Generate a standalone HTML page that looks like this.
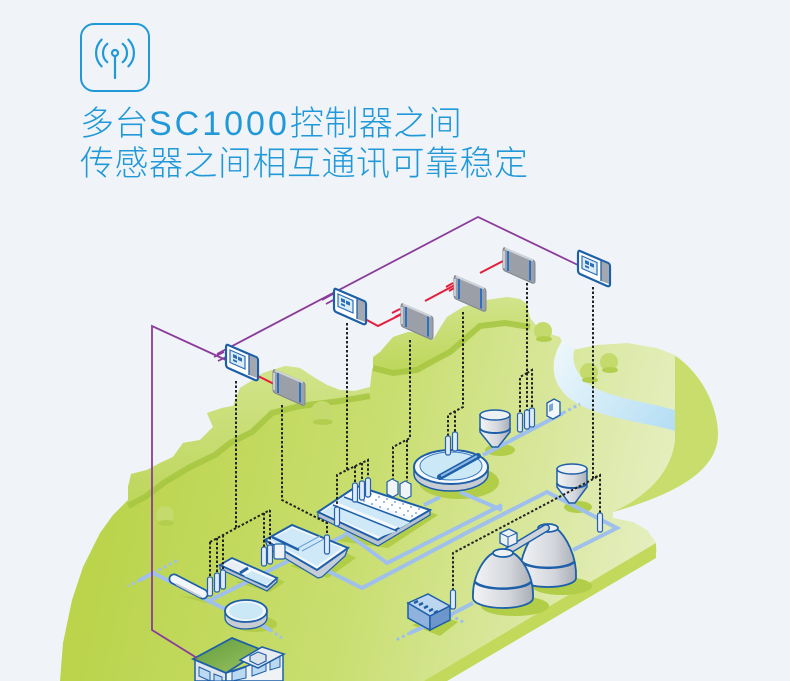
<!DOCTYPE html>
<html><head><meta charset="utf-8">
<style>
html,body{margin:0;padding:0;}
body{width:790px;height:681px;background:#f0f4f8;overflow:hidden;position:relative;}
.t{position:absolute;left:80px;top:104px;font-size:34px;line-height:40px;color:#2199d8;font-family:"Liberation Sans","Noto Sans CJK SC",sans-serif;font-weight:300;white-space:nowrap;letter-spacing:0.5px;}
svg{position:absolute;left:0;top:0;}
</style></head>
<body>
<svg width="790" height="681" viewBox="0 0 790 681" xmlns="http://www.w3.org/2000/svg">
<defs>
<linearGradient id="land" gradientUnits="userSpaceOnUse" x1="120" y1="470" x2="660" y2="590">
<stop offset="0" stop-color="#bbd44c"/><stop offset="0.45" stop-color="#c9de70"/><stop offset="1" stop-color="#e6efc3"/>
</linearGradient>
<linearGradient id="canopy" x1="0" y1="0" x2="0" y2="1">
<stop offset="0" stop-color="#d2e48c"/><stop offset="1" stop-color="#bdd65a"/>
</linearGradient>
<linearGradient id="river" gradientUnits="userSpaceOnUse" x1="555" y1="345" x2="675" y2="428">
<stop offset="0" stop-color="#eef7fb"/><stop offset="1" stop-color="#b4def4"/>
</linearGradient>
<linearGradient id="gray" x1="0" y1="0" x2="1" y2="0">
<stop offset="0" stop-color="#f3f4f6"/><stop offset="0.6" stop-color="#d3d6db"/><stop offset="1" stop-color="#a9aeb6"/>
</linearGradient>
<linearGradient id="roof" x1="0" y1="0" x2="1" y2="1">
<stop offset="0" stop-color="#5f9a3c"/><stop offset="1" stop-color="#9cc461"/>
</linearGradient>
<g id="ctrl">
<path d="M3,1 L31,13 Q33,14 33,17 L33,34 Q33,37 30,36 L3,24 Q1,23 1,20 L1,4 Q1,0 3,1Z" fill="#fff" stroke="#1d5fa8" stroke-width="2.2"/>
<path d="M24,11 L31,14 Q32,14.5 32,16 L32,34 L24,31Z" fill="#a3a8b0"/>
<line x1="24" y1="11" x2="24" y2="31" stroke="#1d5fa8" stroke-width="1.3"/>
<path d="M5,6 L20,12.5 L20,25 L5,18.5 Z" fill="#d9ecf8" stroke="#2b6db6" stroke-width="1.2"/>
<path d="M8,10 l4,1.7 v3.5 l-4,-1.7z M13,12.5 l4,1.7 v3.5 l-4,-1.7z M8,15 l4,1.7 v2 l-4,-1.7z" fill="#2b6db6"/>
</g>
<g id="box">
<path d="M3,1 L31,13 Q33,14 33,17 L33,34 Q33,37 30,36 L3,24 Q1,23 1,20 L1,4 Q1,0 3,1Z" fill="#9ba0a8" stroke="#80868f" stroke-width="1"/>
<path d="M3,1.5 L31,13.5" stroke="#d0d3d8" stroke-width="2"/>
<path d="M2,4 V21" stroke="#c9ccd1" stroke-width="2"/>
<path d="M6,4 V24 M28,13.5 V33.5" stroke="#2d6fc0" stroke-width="2"/>
</g>
<g id="sen">
<rect x="-2.5" y="0" width="5" height="19" rx="2" fill="#e0ebf7" stroke="#2662ad" stroke-width="1.2"/>
</g>
</defs>

<!-- icon -->
<rect x="81" y="24" width="68" height="67" rx="13" fill="none" stroke="#2199d8" stroke-width="2"/>
<g fill="none" stroke="#2199d8" stroke-width="2.2" stroke-linecap="round">
<circle cx="115" cy="53" r="3"/>
<line x1="115" y1="56" x2="115" y2="78"/>
<path d="M107.3,43.8 A12 12 0 0 0 107.3,62.2"/>
<path d="M122.7,43.8 A12 12 0 0 1 122.7,62.2"/>
<path d="M101.6,39.6 A19 19 0 0 0 101.6,66.4"/>
<path d="M128.4,39.6 A19 19 0 0 1 128.4,66.4"/>
</g>

<!-- land -->
<path d="M60,681 L63,643 L72,600 L83,567 L100,533 L113,515 L128,500 L128,487 L131,474 L147,470 L160,463 L173,457 L183,443 L200,440 L213,427 L207,413 L222,408 L233,406 L240,388 L253,380 L263,373 L285,366 L300,368 L315,378 L327,385 L340,390 L355,391 L370,387 L372,370 L380,352 L393,337 L408,332 L420,333 L433,340 L440,328 L447,317 L463,307 L487,300 L507,297 L520,299 L527,304 L530,318 L537,326 L550,334 L560,337 L563,345 L573,350 L597,345 L627,343 L657,348 L675,355 C700,372 718,405 718,435 C717,465 690,490 613,512 L613,518 L633,522 L647,530 L655,541 L657,550 L655,558 L447,681 Z" fill="url(#land)"/>
<!-- dark plate edge -->
<path d="M656,543 L656,558 L447,681 L424,681 Z" fill="#c3d95c"/>
<!-- canopy clusters -->
<path d="M128,490 L131,474 L147,470 L160,463 L173,457 L183,443 L200,440 L213,427 L207,413 L222,408 L233,406 L240,388 L253,380 L263,373 L285,366 L300,368 L315,378 L327,385 L340,390 L355,391 L370,387 L370,396 L340,401 L300,406 L272,413 L252,432 L230,443 L215,455 L190,467 L165,482 L145,497 L128,506 Z" fill="url(#canopy)"/>
<path d="M370,396 L340,401 L300,406 L272,413 L252,432 L230,443 L215,455 L190,467 L165,482 L145,497 L128,506" fill="none" stroke="#a6c53f" stroke-width="6" stroke-opacity="0.85"/>
<path d="M373,357 L380,352 L393,337 L408,332 L420,333 L433,340 L440,328 L447,317 L463,307 L487,300 L507,297 L520,299 L527,304 L530,318 L530,327 L505,323 L480,326 L465,339 L450,352 L433,361 L417,370 L393,373 L373,368 Z" fill="url(#canopy)"/>
<path d="M530,327 L505,323 L480,326 L465,339 L450,352 L433,361 L417,370 L393,373 L373,368" fill="none" stroke="#a6c53f" stroke-width="6" stroke-opacity="0.85"/>
<!-- river -->
<path d="M562,341 C548,362 550,390 580,405 C610,420 645,422 675,431 L675,410 C645,402 615,398 595,388 C577,378 570,362 575,348 Z" fill="url(#river)"/>
<!-- crescent -->
<path d="M675,356 C700,372 718,405 718,435 C717,465 690,490 613,512 C650,495 672,470 675,440 Z" fill="#c8dd6b"/>
<!-- small tree blobs -->
<g fill="#c4da6c">
<circle cx="165" cy="515" r="9"/><circle cx="322" cy="412" r="11"/><circle cx="543" cy="331" r="9"/><circle cx="589" cy="372" r="9"/><circle cx="609" cy="362" r="9"/>
</g>
<g fill="#b3ce4e">
<ellipse cx="166" cy="523" rx="8" ry="3"/><ellipse cx="323" cy="422" rx="10" ry="3"/><ellipse cx="544" cy="339" rx="8" ry="3"/><ellipse cx="590" cy="380" rx="8" ry="3"/><ellipse cx="610" cy="370" rx="8" ry="3"/>
</g>

<!-- shadows -->
<g fill="#b2cd47">
<ellipse cx="459" cy="482" rx="40" ry="17"/>
<ellipse cx="500" cy="450" rx="15" ry="6"/>
<ellipse cx="578" cy="507" rx="14" ry="6"/>
<ellipse cx="515" cy="606" rx="34" ry="10"/>
<ellipse cx="562" cy="586" rx="30" ry="9"/>
<ellipse cx="255" cy="624" rx="22" ry="8"/>
<path d="M330,540 L388,548 L438,515 L420,508 Z"/>
<path d="M290,566 L328,578 L356,558 L345,552 Z"/>
<path d="M235,582 L270,592 L285,582 L275,577 Z"/>
<path d="M180,596 L210,604 L214,598 Z"/>
<path d="M412,625 L440,636 L458,622 L440,615 Z"/>
</g>

<!-- pipes -->
<g fill="none" stroke="#9fc0ec" stroke-width="4">
<path d="M140,580 L153,573 L227,610"/>
<path d="M258,623 L270,630"/>
<path d="M207,602 L290,560"/>
<path d="M320,567 L362,588 L470,531 L547,492 L617,528 L573,550"/>
<path d="M345,532 L387,563 L502,505"/>
<path d="M460,492 L502,510"/>
<path d="M424,505 L440,497"/>
<path d="M483,455 L563,413"/>
<path d="M473,603 L450,615 L410,633"/>
<path d="M300,558 L345,535"/>
</g>
<g fill="none" stroke="#9fc0ec" stroke-width="3" stroke-dasharray="3 3">
<path d="M153,573 L178,560"/>
<path d="M140,580 L128,586"/>
<path d="M270,630 L282,638"/>
<path d="M563,413 L580,404"/>
<path d="M410,633 L396,640"/>
<path d="M450,615 L465,623"/>
</g>

<!-- cylinder -->
<path d="M174,579 L203,594" stroke="#1d5fa8" stroke-width="11" stroke-linecap="round"/>
<path d="M174,579 L203,594" stroke="#f4f7fa" stroke-width="7.5" stroke-linecap="round"/>
<path d="M176,584 L201,597" stroke="#c8ccd2" stroke-width="2"/>

<!-- small round tank -->
<path d="M225,611 L225,618 A21 11 0 0 0 267,618 L267,611 Z" fill="#c8ccd3" stroke="#1d5fa8" stroke-width="1.3"/>
<ellipse cx="246" cy="611" rx="21" ry="11" fill="#f4f8fb" stroke="#1d5fa8" stroke-width="1.8"/>
<ellipse cx="246" cy="611" rx="17" ry="8.5" fill="#cbe8f7"/>

<!-- grit tank -->
<path d="M220,565 L220,569 L267,591 L277,582 L277,578 L267,587 Z" fill="#b9c3cf" stroke="#1d5fa8" stroke-width="1.2"/>
<path d="M220,565 L232,558 L277,578 L267,587 Z" fill="#f4f8fb" stroke="#1d5fa8" stroke-width="1.8"/>
<path d="M224,565 L232,561 L248,568 L240,573 Z" fill="#e8eef4"/>
<path d="M244,576 L252,571 L273,580 L265,585 Z" fill="#cde8f7"/>
<path d="M240,573 L248,568" stroke="#1d5fa8" stroke-width="3"/>

<!-- middle tank -->
<path d="M265,540 L268,548 L318,578 L322,577 L345,556 L348,548 L317,570 Z" fill="#c5cdd8" stroke="#1d5fa8" stroke-width="1.2"/>
<path d="M265,540 L292,525 L348,548 L317,570 Z" fill="#f4f8fb" stroke="#1d5fa8" stroke-width="2"/>
<path d="M270,540 L292,528 L342,548 L317,566 Z" fill="#cfe9f8"/>
<path d="M272,537 L299,550" stroke="#1d5fa8" stroke-width="2.5"/>
<path d="M298,548 L320,536 M302,551 L324,539" stroke="#6d9fd6" stroke-width="1"/>
<rect x="274" y="544" width="11" height="15" rx="2" fill="#eef2f6" stroke="#1d5fa8" stroke-width="1.2"/>

<!-- aeration basin -->
<path d="M318,512 L318,517 L378,546 L430,515 L430,510 L378,540 Z" fill="#b9c3cf" stroke="#1d5fa8" stroke-width="1.2"/>
<path d="M318,512 L357,486 L430,510 L378,540 Z" fill="#f4f8fb" stroke="#1d5fa8" stroke-width="2"/>
<path d="M322,512 L333,505 L397,531 L380,537 Z" fill="#cfe9f8"/>
<path d="M336,502 L344,497 L411,522 L400,528 Z" fill="#cfe9f8"/>
<path d="M347,494 L357,489 L426,511 L414,518 Z" fill="#ffffff"/>
<g fill="#5b8fcc">
<circle cx="360" cy="494" r="0.9"/><circle cx="368" cy="497" r="0.9"/><circle cx="376" cy="500" r="0.9"/><circle cx="384" cy="502" r="0.9"/><circle cx="392" cy="505" r="0.9"/><circle cx="400" cy="508" r="0.9"/><circle cx="408" cy="511" r="0.9"/><circle cx="416" cy="513" r="0.9"/>
<circle cx="356" cy="498" r="0.9"/><circle cx="364" cy="501" r="0.9"/><circle cx="372" cy="504" r="0.9"/><circle cx="380" cy="507" r="0.9"/><circle cx="388" cy="509" r="0.9"/><circle cx="396" cy="512" r="0.9"/><circle cx="404" cy="515" r="0.9"/><circle cx="412" cy="516" r="0.9"/>
<circle cx="363" cy="491" r="0.9"/><circle cx="371" cy="494" r="0.9"/><circle cx="379" cy="497" r="0.9"/><circle cx="387" cy="499" r="0.9"/><circle cx="395" cy="502" r="0.9"/><circle cx="403" cy="504" r="0.9"/><circle cx="411" cy="507" r="0.9"/><circle cx="419" cy="509" r="0.9"/>
</g>
<path d="M333,505 L397,531 M344,497 L411,522" stroke="#1d5fa8" stroke-width="1.5"/>
<!-- blowers -->
<path d="M387,482 L392,479 L398,482 L398,494 L393,497 L387,494 Z" fill="#f1f4f7" stroke="#1d5fa8" stroke-width="1.2"/>
<path d="M400,484 L405,481 L411,484 L411,496 L406,499 L400,496 Z" fill="#f1f4f7" stroke="#1d5fa8" stroke-width="1.2"/>

<!-- clarifier -->
<path d="M414,467 L414,474 A37 17 0 0 0 488,474 L488,467 Z" fill="#c8ccd3" stroke="#1d5fa8" stroke-width="1.5"/>
<ellipse cx="451" cy="467" rx="37" ry="17" fill="#f4f8fb" stroke="#1d5fa8" stroke-width="2"/>
<ellipse cx="451" cy="466" rx="31" ry="14" fill="#cbe8f7" stroke="#3a78c0" stroke-width="1"/>
<path d="M440,477 L478,456" stroke="#1d5fa8" stroke-width="6" stroke-linecap="round"/>
<path d="M441,476 L477,456" stroke="#8fb8e4" stroke-width="2"/>

<!-- silo 1 -->
<path d="M480,415 L480,432 L492,447 L498,447 L510,432 L510,415 Z" fill="url(#gray)" stroke="#1d5fa8" stroke-width="1.5"/>
<ellipse cx="495" cy="415" rx="15" ry="5" fill="#eef1f4" stroke="#1d5fa8" stroke-width="1.5"/>
<path d="M480,428 A15 5 0 0 0 510,428" stroke="#1d5fa8" stroke-width="2" fill="none"/>
<!-- silo 2 -->
<path d="M557,469 L557,487 L569,503 L575,503 L587,487 L587,469 Z" fill="url(#gray)" stroke="#1d5fa8" stroke-width="1.5"/>
<ellipse cx="572" cy="469" rx="15" ry="5" fill="#eef1f4" stroke="#1d5fa8" stroke-width="1.5"/>
<path d="M557,483 A15 5 0 0 0 587,483" stroke="#1d5fa8" stroke-width="2" fill="none"/>

<!-- digesters -->
<path d="M520,578 C519,556 530,536 540,528 L556,528 C566,536 577,556 576,578 A28 9 0 0 1 520,578 Z" fill="url(#gray)" stroke="#1d5fa8" stroke-width="1.8"/>
<path d="M522,562 A27 8 0 0 0 574,562" fill="none" stroke="#1d5fa8" stroke-width="2.5"/>
<ellipse cx="548" cy="528" rx="10" ry="4" fill="#eef1f4" stroke="#1d5fa8" stroke-width="1.8"/>
<path d="M506,552 L546,528" stroke="#1d5fa8" stroke-width="8" stroke-linecap="round"/>
<path d="M506,552 L546,528" stroke="#d0d4da" stroke-width="5" stroke-linecap="round"/>
<path d="M473,598 C472,575 485,556 495,552 L511,552 C521,556 534,575 533,598 A30 10 0 0 1 473,598 Z" fill="url(#gray)" stroke="#1d5fa8" stroke-width="1.8"/>
<path d="M475,582 A29 9 0 0 0 531,582" fill="none" stroke="#1d5fa8" stroke-width="2.5"/>
<ellipse cx="503" cy="553" rx="10" ry="4" fill="#eef1f4" stroke="#1d5fa8" stroke-width="1.8"/>
<path d="M500,533 L509,529 L517,533 L517,543 L508,547 L500,543 Z" fill="#eef1f4" stroke="#1d5fa8" stroke-width="1.3"/>
<path d="M500,533 L508,537 L517,533 M508,537 V547" fill="none" stroke="#1d5fa8" stroke-width="1"/>

<!-- engine -->
<path d="M408,603 L428,594 L450,606 L430,616 Z" fill="#bcd6f0" stroke="#1d5fa8" stroke-width="1.5"/>
<path d="M408,603 L430,616 L430,630 L408,618 Z" fill="#8fb3de" stroke="#1d5fa8" stroke-width="1.5"/>
<path d="M430,616 L450,606 L450,620 L430,630 Z" fill="#6d97cc" stroke="#1d5fa8" stroke-width="1.5"/>
<path d="M414,603 L418,601 M419,605 L423,603 M424,608 L428,606 M429,611 L433,609 M434,613 L438,611" stroke="#1d5fa8" stroke-width="2.5"/>

<!-- small box near river -->
<path d="M547,403 L554,399 L560,402 L560,415 L553,419 L547,416 Z" fill="#f4f7fa" stroke="#1d5fa8" stroke-width="1.3"/>
<path d="M549,405 L553,403 L553,410 L549,412Z" fill="#7aa6d8"/>

<!-- house -->
<path d="M195,659 L226,673 L226,681 L195,681 Z" fill="#dfe5ec" stroke="#1d5fa8" stroke-width="1.5"/>
<path d="M226,673 L283,654 L283,681 L226,681 Z" fill="#f0f3f6" stroke="#1d5fa8" stroke-width="1.5"/>
<path d="M199,667 L210,672 L210,681 L199,676 Z M214,674 L222,677 L222,681 L214,681 Z" fill="#bcd9f2" stroke="#1d5fa8" stroke-width="1"/>
<path d="M232,672 L246,667 L246,678 L232,681 Z M252,665 L266,660 L266,671 L252,676 Z M270,659 L280,656 L280,667 L270,670 Z" fill="#bcd9f2" stroke="#1d5fa8" stroke-width="1"/>
<path d="M193,659 L232,638 L262,650 L226,673 Z" fill="url(#roof)" stroke="#1d5fa8" stroke-width="1.8"/>
<path d="M240,660 L262,647 L284,654 L258,668 Z" fill="#e8ecf0" stroke="#1d5fa8" stroke-width="1.5"/>
<path d="M250,656 L258,652 L266,655 L266,661 L258,665 L250,661 Z" fill="#dbe3ec" stroke="#1d5fa8" stroke-width="1.2"/>

<!-- dotted lines -->
<g fill="none" stroke="#222" stroke-width="2" stroke-dasharray="2.5 2">
<path d="M236,381 V528"/>
<path d="M210,542 L270,510"/>
<path d="M210,542 V577 M217,538 V573 M223,535 V570 M264,513 V547 M270,510 V545"/>
<path d="M282,405 V500 L327,523 V535"/>
<path d="M347,323 V470 L337,475 V507"/>
<path d="M347,470 L368,460 V480 M355,466 V485 M362,463 V483"/>
<path d="M410,340 V438 L393,447 V479 M407,440 V481"/>
<path d="M463,312 V407 L448,415 V437 M455,411 V433"/>
<path d="M527,283 V373 L520,377 V413 M527,373 V410 M527,373 L532,370 V408"/>
<path d="M593,287 V478 L600,475 V513"/>
<path d="M597,477 L453,553 V590"/>
</g>

<!-- sensors -->
<use href="#sen" transform="translate(210,577)"/>
<use href="#sen" transform="translate(217,573)"/>
<use href="#sen" transform="translate(223,570)"/>
<use href="#sen" transform="translate(264,547)"/>
<use href="#sen" transform="translate(270,545)"/>
<use href="#sen" transform="translate(327,535)"/>
<use href="#sen" transform="translate(337,507)"/>
<use href="#sen" transform="translate(355,483)"/>
<use href="#sen" transform="translate(362,481)"/>
<use href="#sen" transform="translate(368,478)"/>
<use href="#sen" transform="translate(448,436)"/>
<use href="#sen" transform="translate(455,432)"/>
<use href="#sen" transform="translate(520,413)"/>
<use href="#sen" transform="translate(527,410)"/>
<use href="#sen" transform="translate(532,408)"/>
<use href="#sen" transform="translate(600,513)"/>
<use href="#sen" transform="translate(453,590)"/>

<!-- purple network -->
<g fill="none" stroke="#8b3b9a" stroke-width="1.8">
<path d="M197,658 L152,630 L152,326 L226,360"/>
<path d="M217,354 L478,217 L580,266"/>
<path d="M214,357 L224,352 M218,361 L228,356"/>
<path d="M322,300 L333,294 M326,304 L337,298"/>
</g>
<!-- red network -->
<g fill="none" stroke="#e61e3c" stroke-width="2">
<path d="M256,375 L274,384"/>
<path d="M365,319 L378,326 L402,314"/>
<path d="M392,313 L400,309 M395,317 L403,313"/>
<path d="M425,301 L455,285"/>
<path d="M446,287 L453,283 M449,291 L456,287"/>
<path d="M480,273 L505,260"/>
</g>

<!-- controllers and modules -->
<use href="#ctrl" transform="translate(225,344)"/>
<use href="#ctrl" transform="translate(333,288)"/>
<use href="#ctrl" transform="translate(577,250)"/>
<use href="#box" transform="translate(272,369)"/>
<use href="#box" transform="translate(400,303)"/>
<use href="#box" transform="translate(453,275)"/>
<use href="#box" transform="translate(502,247)"/>
</svg>
<div class="t">多台<span style="letter-spacing:3px">SC1000</span>控制器之间<br>传感器之间相互通讯可靠稳定</div>
</body></html>
